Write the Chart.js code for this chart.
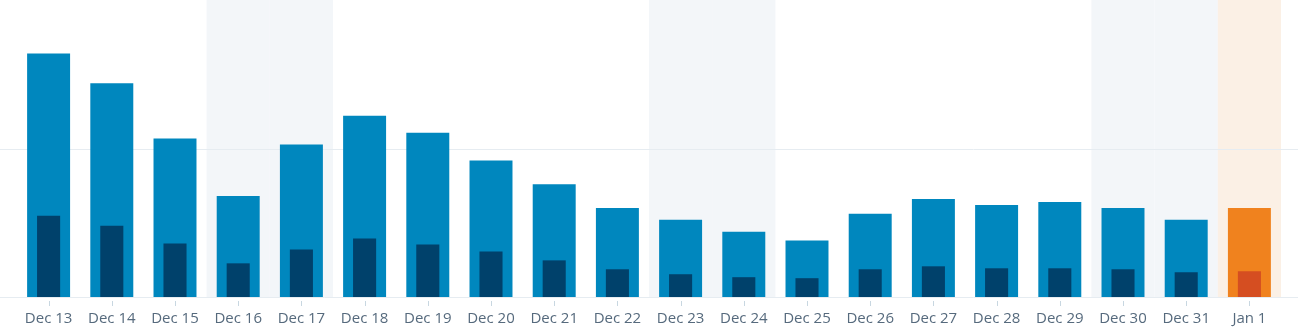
<!DOCTYPE html>
<html>
<head>
<meta charset="utf-8">
<title>Views and visitors by day</title>
<script src="https://cdn.jsdelivr.net/npm/chart.js@4/dist/chart.umd.min.js"></script>
<style>
  html, body { margin: 0; padding: 0; background: #fff; }
  #wrap { position: relative; width: 1298px; height: 335px; }
</style>
</head>
<body>
<div id="wrap"><canvas id="statsChart"></canvas></div>
<script>
// Daily stats data
const days = ['Dec 13', 'Dec 14', 'Dec 15', 'Dec 16', 'Dec 17', 'Dec 18', 'Dec 19', 'Dec 20', 'Dec 21', 'Dec 22',
  'Dec 23', 'Dec 24', 'Dec 25', 'Dec 26', 'Dec 27', 'Dec 28', 'Dec 29', 'Dec 30', 'Dec 31', 'Jan 1'];
const views = [246, 216, 160, 102, 154, 183, 166, 138, 114, 90, 78, 66, 57, 84, 99, 93, 96, 90, 78, 90];
const visitors = [82, 72, 54, 34, 48, 59, 53, 46, 37, 28, 23, 20, 19, 28, 31, 29, 29, 28, 25, 26];
const weekendDays = ['Dec 16', 'Dec 17', 'Dec 23', 'Dec 24', 'Dec 30', 'Dec 31'];
const today = 'Jan 1';
const yTicks = [0, 150, 300];

(function () {
  'use strict';

  const COLORS = {
    views: '#0087be',
    visitors: '#00416b',
    todayViews: '#f0821e',
    todayVisitors: '#d54e21',
    weekend: '#f3f6f9',
    todayBand: '#fbf0e5',
    grid: '#e6ecf1',
    tick: '#c8d7e1',
    label: '#566a7d'
  };

  document.addEventListener('DOMContentLoaded', function () {
    const ctx = document.getElementById('statsChart').getContext('2d');

    // per-bar colours, today gets the orange pair
    const viewColors = days.map(d => d === today ? COLORS.todayViews : COLORS.views);
    const visitorColors = days.map(d => d === today ? COLORS.todayVisitors : COLORS.visitors);

    new Chart(ctx, {
      type: 'bar',
      data: {
        labels: days,
        datasets: [
          {
            label: 'Visitors',
            data: visitors,
            backgroundColor: visitorColors,
            barPercentage: 0.365,
            categoryPercentage: 1,
            grouped: false,
            order: 0
          },
          {
            label: 'Views',
            data: views,
            backgroundColor: viewColors,
            barPercentage: 0.68,
            categoryPercentage: 1,
            grouped: false,
            order: 1
          }
        ]
      },
      options: {
        responsive: true,
        maintainAspectRatio: false,
        animation: false,
        layout: { padding: { left: 17, right: 17, top: 0, bottom: 0 } },
        plugins: {
          legend: { display: false },
          tooltip: { enabled: false }
        },
        scales: {
          x: {
            grid: { display: false },
            border: { display: false },
            afterFit(scale) { scale.height = 38; },
            ticks: {
              autoSkip: false,
              maxRotation: 0,
              padding: 5,
              color: COLORS.label,
              font: { family: '"Open Sans", "Noto Sans", sans-serif', size: 15 }
            }
          },
          y: {
            display: false,
            min: yTicks[0],
            max: yTicks[yTicks.length - 1],
            ticks: { stepSize: yTicks[1] - yTicks[0] }
          }
        }
      },
      plugins: [backdropPlugin]
    });
  });

  // =================================================
  // BACKGROUND: day bands, full-width grid lines, tick marks
  // =================================================
  const backdropPlugin = {
    id: 'backdrop',
    beforeDatasetsDraw(chart) {
      const { ctx, chartArea, scales: { x, y } } = chart;
      const step = x.getPixelForValue(1) - x.getPixelForValue(0);
      ctx.save();

      // weekend and today bands
      days.forEach((d, i) => {
        let fill = null;
        if (d === today) fill = COLORS.todayBand;
        else if (weekendDays.includes(d)) fill = COLORS.weekend;
        if (!fill) return;
        const cx = x.getPixelForValue(i);
        ctx.fillStyle = fill;
        ctx.fillRect(cx - step / 2, chartArea.top, step, chartArea.bottom - chartArea.top);
      });

      // horizontal lines run across the whole canvas (top line left out)
      ctx.strokeStyle = COLORS.grid;
      ctx.lineWidth = 1;
      yTicks.slice(0, -1).forEach(v => {
        const py = Math.round(y.getPixelForValue(v)) + 0.5;
        ctx.beginPath();
        ctx.moveTo(0, py);
        ctx.lineTo(chart.width, py);
        ctx.stroke();
      });

      // small tick marks under each day
      ctx.strokeStyle = COLORS.tick;
      days.forEach((d, i) => {
        const px = Math.round(x.getPixelForValue(i)) + 0.5;
        ctx.beginPath();
        ctx.moveTo(px, chartArea.bottom + 4);
        ctx.lineTo(px, chartArea.bottom + 9);
        ctx.stroke();
      });

      ctx.restore();
    }
  };
})();
</script>
</body>
</html>
